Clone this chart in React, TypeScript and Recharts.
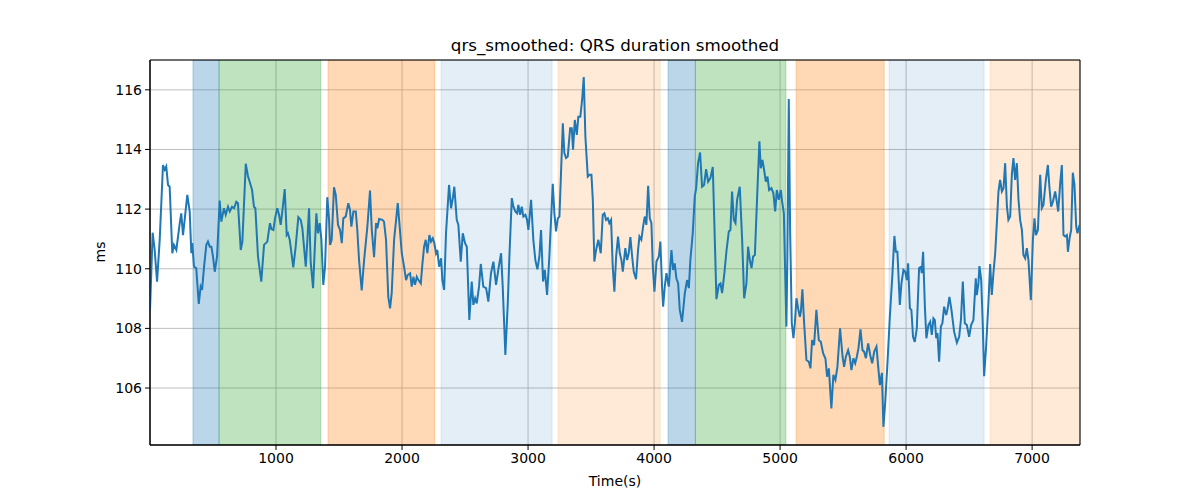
import { ComposedChart, CartesianGrid, Line, ReferenceArea, XAxis, YAxis } from "recharts";

// sample times (s) and smoothed QRS duration (ms)
const TIMES = [
  0, 21, 37, 56, 77, 103, 117, 129, 143, 156, 177, 190, 209, 236, 248, 262, 275, 296, 315, 328,
  336, 349, 367, 387, 402, 413, 429, 447, 460, 474, 487, 500, 514, 532, 553, 566, 587, 601, 619, 633,
  651, 667, 685, 698, 720, 733, 760, 778, 791, 810, 825, 836, 857, 883, 905, 931, 952, 963, 979, 992,
  1010, 1024, 1037, 1050, 1069, 1085, 1095, 1109, 1137, 1156, 1177, 1196, 1209, 1236, 1248, 1262, 1275, 1294, 1307, 1320,
  1333, 1347, 1360, 1375, 1389, 1407, 1421, 1429, 1442, 1460, 1474, 1492, 1508, 1522, 1534, 1553, 1574, 1587, 1598, 1614,
  1633, 1645, 1659, 1680, 1699, 1725, 1746, 1760, 1778, 1794, 1804, 1818, 1844, 1857, 1873, 1891, 1905, 1918, 1937, 1953,
  1966, 1979, 1998, 2016, 2032, 2045, 2064, 2077, 2090, 2103, 2117, 2130, 2149, 2161, 2175, 2188, 2201, 2217, 2230, 2244,
  2256, 2270, 2280, 2294, 2310, 2320, 2334, 2349, 2373, 2389, 2403, 2415, 2434, 2447, 2466, 2482, 2500, 2514, 2534, 2553,
  2566, 2580, 2593, 2611, 2625, 2645, 2667, 2685, 2706, 2725, 2746, 2768, 2786, 2799, 2820, 2839, 2852, 2871, 2884, 2899,
  2913, 2923, 2937, 2950, 2963, 2979, 2992, 3003, 3024, 3042, 3058, 3074, 3090, 3103, 3119, 3133, 3151, 3169, 3196, 3209,
  3222, 3236, 3249, 3276, 3288, 3302, 3315, 3334, 3347, 3357, 3371, 3387, 3399, 3415, 3429, 3442, 3455, 3474, 3487, 3503,
  3514, 3526, 3540, 3558, 3577, 3593, 3606, 3619, 3633, 3645, 3659, 3672, 3685, 3699, 3714, 3728, 3741, 3752, 3772, 3786,
  3799, 3812, 3826, 3839, 3857, 3873, 3884, 3899, 3913, 3926, 3939, 3953, 3966, 3979, 3990, 4003, 4019, 4038, 4050, 4064,
  4072, 4085, 4098, 4117, 4138, 4151, 4164, 4177, 4191, 4204, 4222, 4244, 4262, 4276, 4288, 4307, 4323, 4334, 4349, 4365,
  4381, 4397, 4413, 4429, 4447, 4466, 4482, 4495, 4514, 4527, 4540, 4558, 4574, 4593, 4606, 4619, 4633, 4646, 4659, 4680,
  4699, 4715, 4733, 4746, 4760, 4773, 4786, 4800, 4818, 4836, 4847, 4860, 4873, 4887, 4900, 4913, 4931, 4947, 4961, 4974,
  4990, 5006, 5016, 5030, 5050, 5058, 5069, 5080, 5093, 5106, 5117, 5130, 5143, 5157, 5165, 5177, 5191, 5209, 5228, 5241,
  5254, 5270, 5288, 5307, 5323, 5342, 5360, 5373, 5387, 5407, 5423, 5439, 5455, 5476, 5496, 5508, 5522, 5540, 5553, 5566,
  5582, 5596, 5609, 5622, 5638, 5654, 5667, 5681, 5699, 5715, 5731, 5747, 5765, 5781, 5792, 5808, 5820, 5834, 5852, 5871,
  5892, 5907, 5919, 5931, 5950, 5963, 5979, 5993, 6006, 6016, 6030, 6042, 6055, 6069, 6085, 6103, 6117, 6124, 6135, 6149,
  6161, 6177, 6191, 6204, 6217, 6228, 6239, 6249, 6262, 6276, 6288, 6302, 6318, 6328, 6344, 6360, 6381, 6403, 6421, 6435,
  6450, 6466, 6482, 6500, 6516, 6534, 6553, 6561, 6574, 6582, 6596, 6609, 6619, 6635, 6653, 6667, 6680, 6693, 6707, 6720,
  6733, 6746, 6760, 6773, 6786, 6800, 6812, 6826, 6839, 6852, 6865, 6879, 6892, 6905, 6919, 6931, 6945, 6958, 6971, 6990,
  7006, 7019, 7030, 7046, 7064, 7077, 7090, 7109, 7125, 7138, 7151, 7165, 7183, 7196, 7207, 7223, 7236, 7249, 7262, 7276,
  7284, 7297, 7310, 7323, 7336, 7350, 7360, 7376,
];

const QRS = [
  108.6, 111.21, 110.63, 109.57, 110.97, 113.48, 113.32, 113.43, 112.81, 112.75, 110.52, 110.8, 110.63, 111.53, 111.86, 111.13, 111.64, 112.48, 111.92, 110.52,
  110.86, 110.07, 110.02, 108.82, 109.4, 109.29, 110.07, 110.8, 110.91, 110.74, 110.74, 110.41, 109.9, 110.41, 112.29, 111.58, 112.03, 111.81, 112.08, 111.92,
  112.08, 112.03, 112.25, 112.2, 110.63, 110.91, 113.52, 113.09, 112.92, 112.64, 112.08, 112.03, 110.41, 109.57, 110.8, 110.91, 111.53, 111.33, 111.3, 111.69,
  112.03, 111.81, 111.47, 111.92, 112.67, 111.13, 111.19, 110.97, 110.05, 110.74, 111.73, 111.64, 111.36, 110.07, 110.91, 112.03, 110.24, 109.35, 110.63, 111.86,
  111.19, 111.53, 110.97, 109.46, 110.07, 112.4, 111.64, 110.8, 110.97, 112.73, 112.48, 111.47, 111.3, 110.86, 111.69, 111.75, 112.2, 111.97, 111.41, 111.92,
  111.92, 111.3, 110.29, 109.27, 110.29, 111.41, 112.62, 111.3, 110.39, 111.53, 111.36, 111.67, 111.64, 111.58, 110.97, 109.06, 108.67, 109.18, 110.97, 111.64,
  112.2, 111.53, 110.52, 110.07, 109.62, 109.79, 109.85, 109.4, 109.73, 109.46, 109.73, 109.62, 109.51, 110.13, 110.74, 110.97, 110.52, 111.13, 110.91, 111.02,
  110.86, 110.52, 110.63, 110.07, 110.35, 109.62, 109.29, 111.19, 112.81, 112.03, 112.37, 112.75, 111.64, 111.47, 110.24, 111.19, 110.86, 110.74, 108.28, 109.57,
  108.79, 109.01, 108.84, 109.4, 110.16, 109.4, 109.35, 108.9, 109.85, 110.24, 109.46, 110.07, 110.52, 109.4, 107.11, 108.84, 110.41, 112.37, 112.08, 111.92,
  111.86, 112.14, 111.81, 112.08, 111.75, 111.81, 111.64, 111.3, 112.31, 110.97, 110.29, 109.98, 110.41, 111.3, 109.57, 109.96, 109.12, 110.41, 112.85, 111.86,
  111.25, 111.69, 111.75, 114.88, 113.88, 113.71, 113.76, 114.71, 114.71, 113.99, 114.99, 114.49, 115.1, 115.1, 115.66, 116.43, 114.43, 113.09, 113.15, 113.15,
  112.31, 110.24, 110.63, 110.97, 110.52, 111.81, 111.86, 111.64, 111.69, 111.53, 111.64, 110.07, 109.23, 110.41, 111.08, 110.52, 110.29, 109.9, 110.69, 110.29,
  110.52, 111.06, 110.41, 109.9, 109.65, 110.63, 111.08, 110.97, 111.41, 111.75, 111.47, 112.78, 111.69, 111.53, 110.07, 109.23, 110.24, 110.41, 110.91, 109.35,
  108.73, 109.4, 109.85, 109.4, 110.63, 109.96, 110.18, 109.68, 109.51, 108.62, 108.22, 109.18, 109.62, 109.35, 110.29, 111.19, 112.42, 112.7, 113.54, 113.9,
  112.75, 112.81, 113.34, 112.92, 113.04, 113.41, 110.97, 108.98, 109.46, 109.51, 109.18, 109.85, 110.57, 111.25, 111.3, 112.59, 111.64, 111.53, 112.31, 112.75,
  110.97, 109.01, 109.51, 110.74, 110.29, 110.02, 110.41, 110.46, 112.42, 114.27, 113.37, 113.65, 113.32, 112.92, 113.09, 112.64, 112.7, 112.53, 111.92, 112.64,
  112.31, 112.64, 112.25, 111.86, 108.06, 110.41, 115.69, 111.19, 108.17, 107.67, 108.17, 109.01, 108.67, 108.39, 108.56, 109.31, 108.17, 106.94, 106.88, 106.66,
  107.61, 107.44, 108.62, 107.61, 107.55, 107.16, 106.99, 106.38, 106.66, 105.32, 106.44, 106.27, 106.71, 108.0, 107.05, 106.71, 107.05, 107.27, 107.05, 106.6,
  107.0, 106.83, 107.05, 107.33, 107.97, 107.27, 107.22, 107.0, 107.5, 107.11, 106.83, 107.22, 107.39, 106.6, 106.1, 106.51, 104.7, 105.49, 106.83, 108.39,
  109.85, 111.1, 110.57, 110.57, 108.79, 109.51, 109.96, 109.9, 109.62, 110.18, 108.67, 108.62, 107.72, 107.55, 108.0, 110.02, 110.07, 109.85, 110.57, 108.73,
  107.67, 108.11, 108.22, 107.78, 108.34, 108.28, 107.67, 107.84, 106.88, 108.06, 108.17, 108.73, 108.45, 108.62, 109.06, 108.62, 107.89, 107.52, 107.72, 108.28,
  109.57, 108.17, 108.11, 107.72, 108.11, 108.28, 109.68, 109.12, 109.51, 110.09, 109.62, 108.06, 106.4, 107.39, 108.84, 110.16, 109.12, 109.85, 110.52, 111.53,
  112.59, 112.98, 112.59, 112.7, 113.54, 112.08, 111.64, 111.75, 113.15, 113.71, 112.98, 113.54, 112.31, 111.64, 111.3, 110.46, 110.35, 110.69, 110.29, 108.95,
  110.97, 111.69, 111.13, 111.3, 113.15, 112.03, 112.14, 112.98, 113.48, 112.7, 112.08, 112.25, 112.59, 112.25, 111.92, 112.87, 113.48, 111.13, 111.08, 111.13,
  110.57, 111.02, 111.3, 113.22, 112.81, 111.41, 111.19, 111.47,
];

// shaded segments
const BAND_START = [341, 548, 1413, 2310, 3238, 4111, 4328, 5127, 5865, 6667];
const BAND_END = [548, 1355, 2260, 3191, 4048, 4328, 5046, 5826, 6619, 7380];
const BAND_COLOR = ["#1f77b4", "#2ca02c", "#ff7f0e", "#1f77b4", "#ff7f0e", "#1f77b4", "#2ca02c", "#ff7f0e", "#1f77b4", "#ff7f0e"];
const BAND_ALPHA = [0.3, 0.3, 0.3, 0.12, 0.16, 0.3, 0.3, 0.3, 0.12, 0.16];

const X_TICKS = [1000, 2000, 3000, 4000, 5000, 6000, 7000];
const Y_TICKS = [106, 108, 110, 112, 114, 116];
const X_MAX = 7380;
const Y_MIN = 104.09;
const Y_MAX = 117;

const FONT = "'DejaVu Sans', sans-serif";
const TICK_STYLE = { fill: "#000", fontSize: 14, fontFamily: FONT };

const data = TIMES.map((t, i) => ({ t, v: QRS[i] }));

export default function App() {
  return (
    <div style={{ position: "absolute", left: 0, top: 0, width: 1200, height: 500, background: "#fff", fontFamily: FONT }}>
      <ComposedChart width={1200} height={500} data={data} margin={{ top: 60, right: 120, bottom: 25, left: 90 }}>
        <CartesianGrid stroke="#b0b0b0" strokeWidth={0.8} />
        {BAND_START.map((s, i) => (
          <ReferenceArea
            key={i}
            x1={s}
            x2={BAND_END[i]}
            y1={Y_MIN}
            y2={Y_MAX}
            fill={BAND_COLOR[i]}
            fillOpacity={BAND_ALPHA[i]}
            stroke={BAND_COLOR[i]}
            strokeOpacity={BAND_ALPHA[i]}
            ifOverflow="hidden"
          />
        ))}
        <XAxis
          dataKey="t"
          type="number"
          domain={[0, X_MAX]}
          ticks={X_TICKS}
          allowDataOverflow
          height={30}
          tickSize={5}
          tickMargin={3}
          tick={TICK_STYLE}
          stroke="#000"
        />
        <YAxis
          type="number"
          domain={[Y_MIN, Y_MAX]}
          ticks={Y_TICKS}
          allowDataOverflow
          width={60}
          tickSize={5}
          tickMargin={3}
          tick={TICK_STYLE}
          stroke="#000"
        />
        <Line type="linear" dataKey="v" stroke="#1f77b4" strokeWidth={2} dot={false} isAnimationActive={false} />
        <ReferenceArea x1={0} x2={X_MAX} y1={Y_MIN} y2={Y_MAX} fill="none" stroke="#000" strokeWidth={1} />
      </ComposedChart>
      <div style={{ position: "absolute", left: 150, width: 930, top: 37, textAlign: "center", fontSize: 16.7, lineHeight: 1 }}>
        qrs_smoothed: QRS duration smoothed
      </div>
      <div style={{ position: "absolute", left: 150, width: 930, top: 474, textAlign: "center", fontSize: 14, lineHeight: 1 }}>
        Time(s)
      </div>
      <div
        style={{
          position: "absolute",
          left: 100,
          top: 252,
          fontSize: 14,
          lineHeight: 1,
          transform: "translate(-50%, -50%) rotate(-90deg)",
        }}
      >
        ms
      </div>
    </div>
  );
}
